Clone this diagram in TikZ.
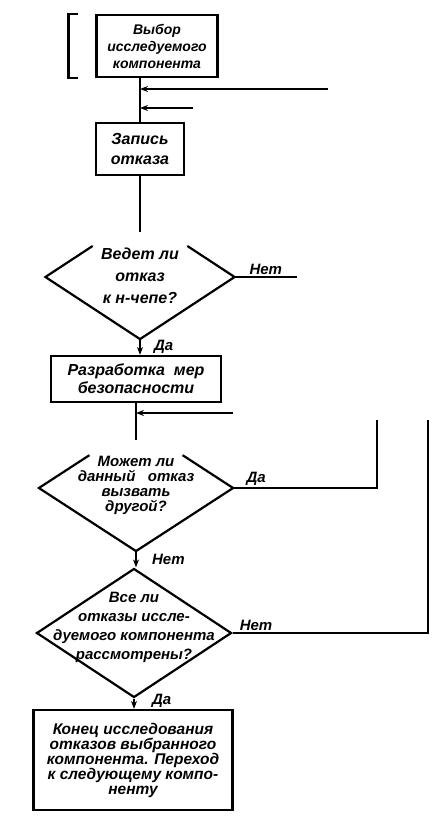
\documentclass[tikz,border=0pt]{standalone}
\usepackage{fontspec}
\setmainfont{Liberation Sans}
\usetikzlibrary{shapes.geometric,calc,arrows.meta}

\newcommand{\bfit}[2]{\fontsize{#1}{#2}\selectfont\bfseries\itshape}

\begin{document}
\begin{tikzpicture}[
  x=1pt, y=-1pt,
  % Node styles
  block/.style={draw, line width=2.2pt, align=center, inner sep=2pt, font=\bfit{16}{18}},
  check/.style={diamond, inner sep=0pt, line width=2.2pt},
  qtext/.style={align=center, font=\bfit{16}{17}},
  % Edge styles
  flow/.style={line width=2.2pt},
  into/.style={flow, -{Stealth[length=8pt,width=6pt]}},
  % Label style
  ans/.style={font=\bfit{15}{15}, inner sep=1pt},
]
\useasboundingbox (0,0) rectangle (432,820);

% === MAIN COLUMN ===
\node[block, minimum width=121, minimum height=62, font=\bfit{14}{17}] (sel) at (157,46)
  {Выбор\\исследуемого\\компонента};
\node[block, minimum width=88, minimum height=52, font=\bfit{16}{20}] (rec) at (140,149)
  {Запись\\отказа};
\node[check, minimum width=187, minimum height=122] (dq1) at (140,277) {};
\node[qtext, font=\bfit{16}{22}] (t1) at (140,276)
  {Ведет ли\\отказ\\к н-чепе?};
\node[block, minimum width=170, minimum height=46] (safe) at (136,379)
  {Разработка \ мер\\безопасности};
\node[check, minimum width=192, minimum height=124] (dq2) at (136,488) {};
\node[qtext, font=\bfit{15}{15}] (t2) at (136,485)
  {Может ли\\данный \ \ отказ\\вызвать\\другой?};
\node[check, draw, minimum width=195, minimum height=129] (dq3) at (134,633) {};
\node[qtext, font=\bfit{15}{19}] (t3) at (134,627)
  {Все ли\\отказы иссле-\\дуемого компонента\\рассмотрены?};
\node[block, minimum width=199, minimum height=100, font=\bfit{15.5}{15}] (fin) at (133,760)
  {Конец исследования\\отказов выбранного\\компонента. Переход\\к следующему компо-\\ненту};

% bracket left of the first box
\draw[flow] ($(sel.north west)+(-17,0)$) -- ++(-10,0) |- ($(sel.south west)+(-17,0)$);

% open-topped outlines of the first two checks
\draw[flow] ($(dq1.north)!0.5!(dq1.west)$) -- (dq1.west) -- (dq1.south)
  -- (dq1.east) -- ($(dq1.north)!0.5!(dq1.east)$);
\draw[flow] ($(dq2.north)!0.48!(dq2.west)$) -- (dq2.west) -- (dq2.south)
  -- (dq2.east) -- ($(dq2.north)!0.48!(dq2.east)$);

% === FREE ENDS ===
\coordinate (in1)  at (140,232);
\coordinate (in2)  at (136,440);
\coordinate (ret1) at (328,89);
\coordinate (ret2) at (193,108);
\coordinate (ret3) at (233,413);
\coordinate (no1)  at (297,277);
\coordinate (up2)  at (377,420);
\coordinate (up3)  at (428,420);

% === CONNECTORS ===
\draw[flow] (sel.south -| rec.north) -- (rec.north);
\draw[into] (ret1) -- (ret1 -| rec.north);
\draw[into] (ret2) -- (ret2 -| rec.north);
\draw[flow] (rec.south) -- (in1);
\draw[flow] (dq1.east) -- (no1) node[ans, midway, above] {Нет};
\draw[into] (dq1.south) -- (dq1.south |- safe.north) node[ans, midway, right=12pt] {Да};
\draw[flow] (safe.south -| in2) -- (in2);
\draw[into] (ret3) -- (ret3 -| in2);
\draw[flow] (dq2.east) -| (up2) node[ans, pos=0.08, above] {Да};
\draw[into] (dq2.south) -- (dq2.south |- dq3.north) node[ans, midway, right=14pt] {Нет};
\draw[flow] (dq3.east) -| (up3) node[ans, pos=0.06, above] {Нет};
\draw[into] (dq3.south) -- (dq3.south |- fin.north) node[ans, pos=0.2, right=16pt] {Да};

\end{tikzpicture}
\end{document}
